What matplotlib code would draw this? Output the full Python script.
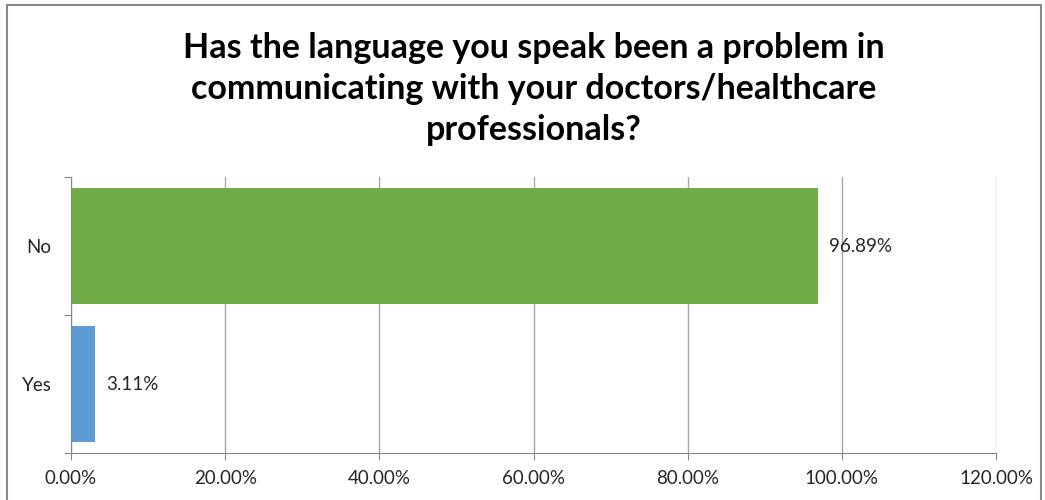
import matplotlib
matplotlib.use("Agg")
import matplotlib.pyplot as plt
from matplotlib.patches import Rectangle

# data
categories = ["Yes", "No"]
values = [3.11, 96.89]
colors = ["#5B9BD5", "#70AD47"]
xticks = [0, 20, 40, 60, 80, 100, 120]

plt.rcParams["font.family"] = ["Lato", "DejaVu Sans"]

fig = plt.figure(figsize=(10.45, 5.0), dpi=100)
ax = fig.add_axes([71 / 1045, 1 - 453 / 500, 925 / 1045, 276 / 500])

bars = ax.barh(range(len(categories)), values, height=0.84, color=colors, zorder=3)

for b, v in zip(bars, values):
    ax.text(v + 1.4, b.get_y() + b.get_height() / 2, "%.2f%%" % v,
            va="center", ha="left", fontsize=13.5, color="#262626")

ax.set_xlim(0, 120)
ax.set_ylim(-0.5, len(categories) - 0.5)
ax.set_xticks(xticks)
ax.set_xticklabels(["%.2f%%" % t for t in xticks], fontsize=13.5, color="#262626")
ax.set_yticks([-0.5, 0.5, 1.5])
ax.set_yticklabels([])
ax.set_yticks(range(len(categories)), minor=True)
ax.set_yticklabels(categories, minor=True, fontsize=13.5, color="#262626")
ax.tick_params(axis="y", which="minor", length=0, pad=14)
ax.tick_params(axis="y", which="major", length=5, color="#888888")
ax.tick_params(axis="x", length=5, color="#888888", pad=7)

ax.grid(axis="x", color="#a6a6a6", linewidth=1, zorder=0)
for s in ["top", "right"]:
    ax.spines[s].set_visible(False)
for s in ["left", "bottom"]:
    ax.spines[s].set_color("#888888")
    ax.spines[s].set_zorder(4)

fig.text(533.5 / 1045, 1 - 89 / 500,
         "Has the language you speak been a problem in\n"
         "communicating with your doctors/healthcare\n"
         "professionals?",
         ha="center", va="center", fontsize=24.5, fontweight="bold",
         linespacing=1.33, color="black")

# outer chart border
fig.patches.append(Rectangle((7 / 1045, -0.05), (1041 - 7) / 1045, 1.05 - 5 / 500,
                             transform=fig.transFigure, fill=False,
                             edgecolor="#888888", linewidth=1.5))

fig.savefig("out.png", dpi=100)
